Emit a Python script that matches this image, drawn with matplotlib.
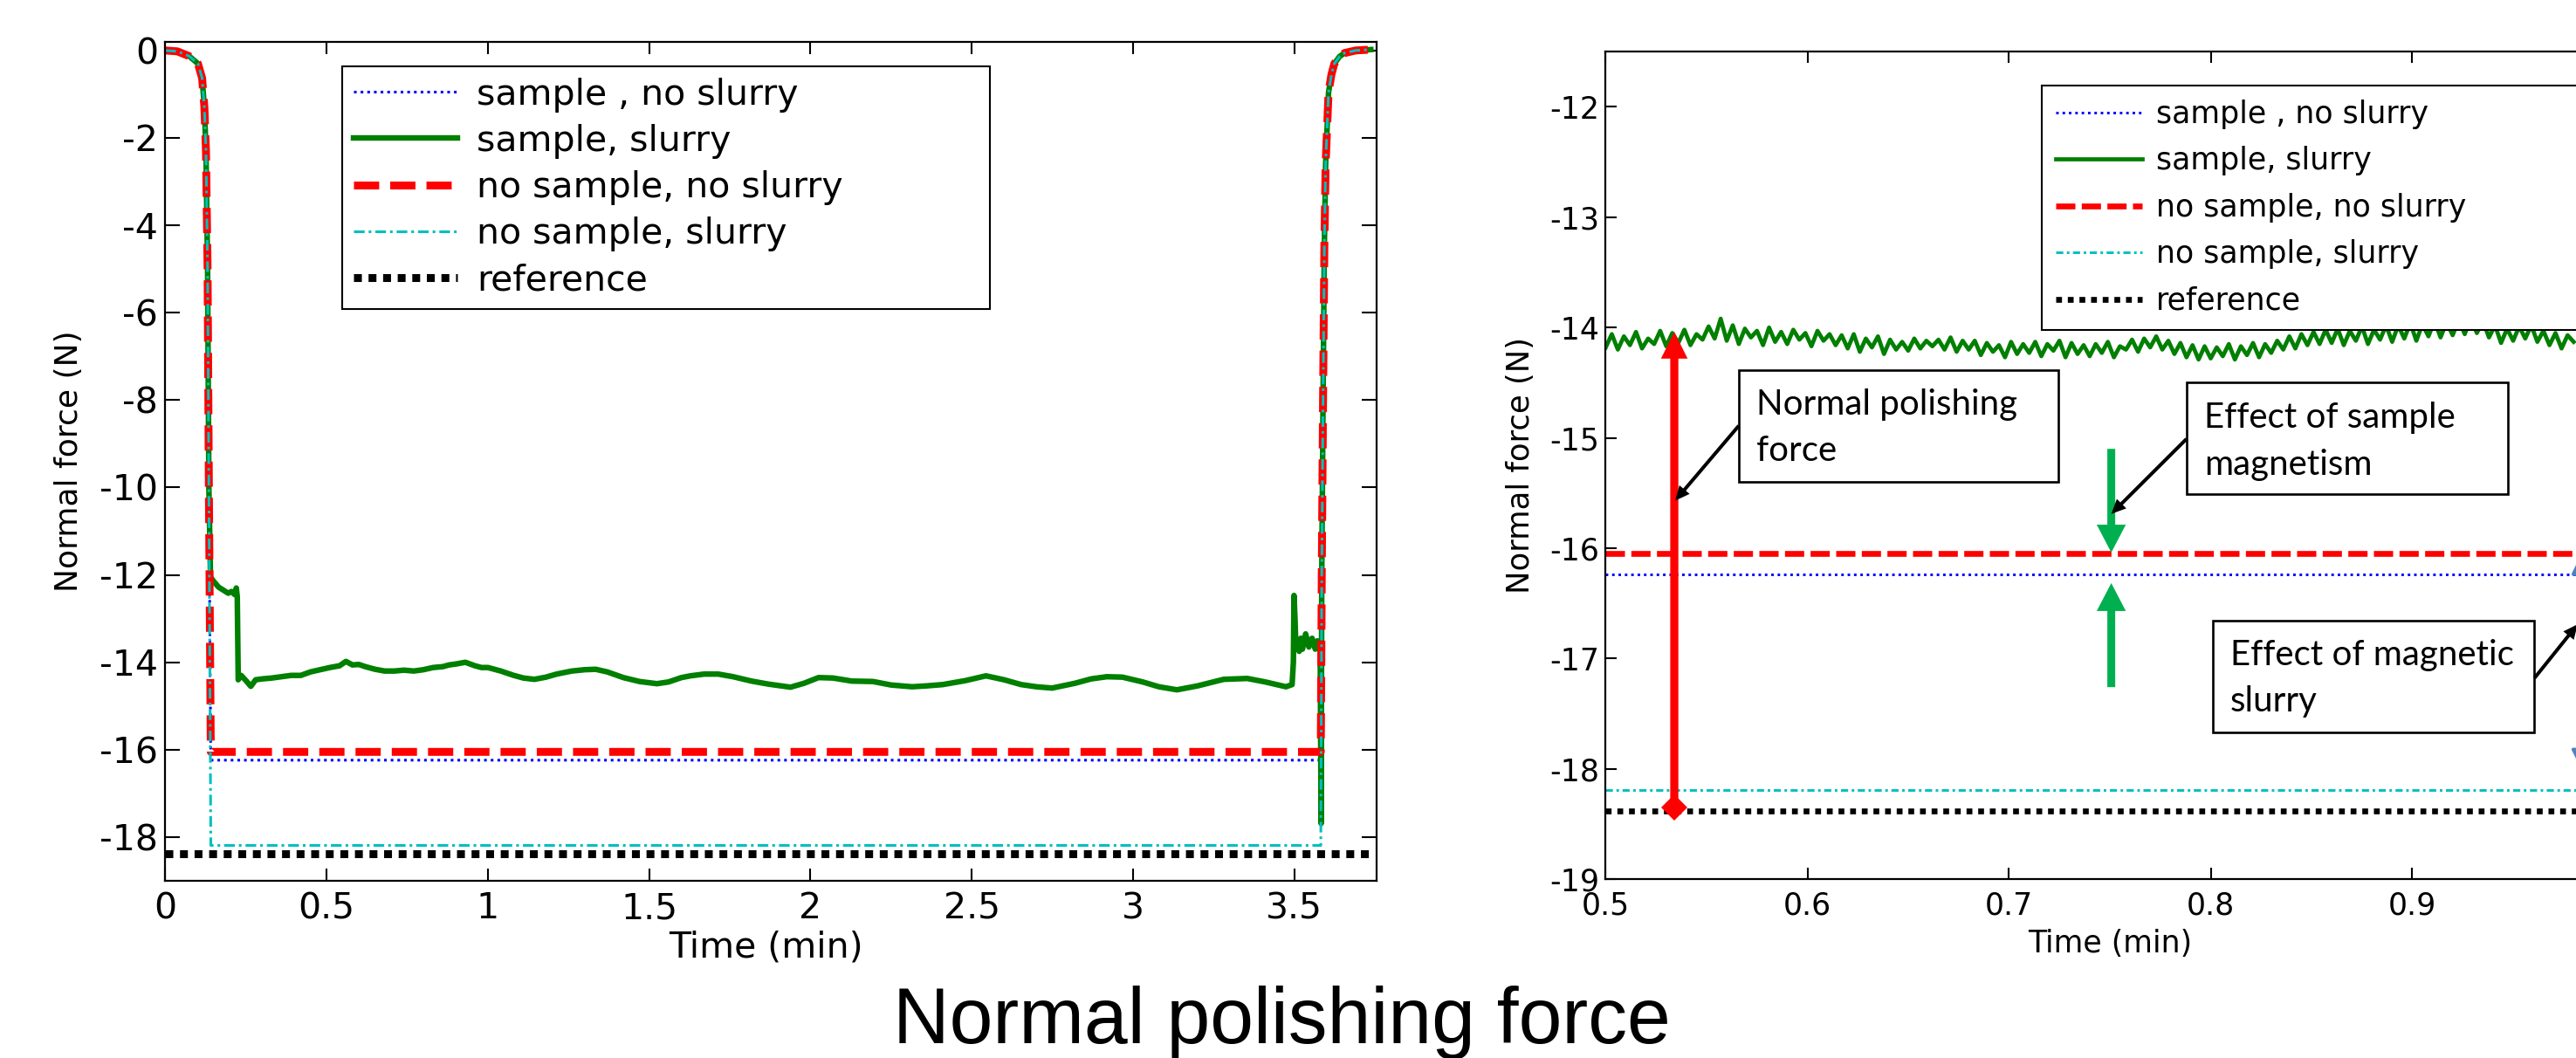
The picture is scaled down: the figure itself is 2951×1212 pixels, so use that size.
import numpy as np
import matplotlib
matplotlib.use("Agg")
import matplotlib.pyplot as plt
from matplotlib.patches import Rectangle

# ------------------------------------------------------------------ data
series_labels = ["sample , no slurry", "sample, slurry", "no sample, no slurry",
                 "no sample, slurry", "reference"]

# steady plateau levels (N)
level_sample_noslurry = -16.24
level_nosample_noslurry = -16.05
level_nosample_slurry = -18.19
level_reference = -18.38

# common load / unload transients (left panel)
ramp_down_t = [0.000, 0.037, 0.074, 0.101, 0.114, 0.121, 0.126, 0.131, 0.135]
ramp_down_f = [0.00, -0.02, -0.13, -0.30, -0.63, -1.29, -2.30, -5.00, -10.00]
plateau_t = [0.141, 3.582]
ramp_up_t = [3.585, 3.589, 3.593, 3.597, 3.606, 3.615, 3.624, 3.640, 3.655, 3.690, 3.737]
ramp_up_f = [-12.0, -8.0, -4.5, -2.6, -0.96, -0.55, -0.30, -0.14, -0.06, 0.00, 0.02]
reference_t = [0.0, 3.75]

# sample, slurry : full run (left panel)
green_t = [0.140, 0.150, 0.165, 0.180, 0.195, 0.205, 0.215, 0.220, 0.223, 0.226,
           0.235, 0.250, 0.265, 0.280, 0.300, 0.330, 0.360, 0.390, 0.420, 0.450,
           0.480, 0.510, 0.540, 0.560, 0.580, 0.600, 0.620, 0.650, 0.680, 0.710,
           0.740, 0.770, 0.800, 0.830, 0.860, 0.880, 0.900, 0.930, 0.960, 0.980,
           1.000, 1.040, 1.080, 1.110, 1.144, 1.180, 1.213, 1.260, 1.300, 1.334,
           1.370, 1.420, 1.470, 1.524, 1.560, 1.600, 1.628, 1.670, 1.714, 1.760,
           1.817, 1.870, 1.938, 1.980, 2.025, 2.070, 2.128, 2.194, 2.250, 2.315,
           2.360, 2.410, 2.480, 2.544, 2.600, 2.653, 2.700, 2.749, 2.820, 2.870,
           2.919, 2.967, 3.030, 3.080, 3.136, 3.200, 3.281, 3.354, 3.410, 3.474,
           3.493, 3.497, 3.499, 3.502, 3.505, 3.510, 3.515, 3.520, 3.525, 3.535,
           3.545, 3.555, 3.565, 3.571, 3.580, 3.583]
green_f = [-12.05, -12.15, -12.28, -12.35, -12.42, -12.38, -12.45, -12.30, -12.50, -14.40,
           -14.30, -14.42, -14.55, -14.40, -14.38, -14.36, -14.33, -14.30, -14.30, -14.22,
           -14.17, -14.12, -14.08, -13.98, -14.06, -14.05, -14.10, -14.16, -14.20, -14.20,
           -14.18, -14.20, -14.17, -14.12, -14.10, -14.06, -14.04, -14.00, -14.08, -14.12,
           -14.12, -14.20, -14.30, -14.36, -14.39, -14.34, -14.27, -14.20, -14.17, -14.16,
           -14.22, -14.35, -14.44, -14.49, -14.45, -14.35, -14.31, -14.27, -14.27, -14.33,
           -14.43, -14.50, -14.57, -14.48, -14.35, -14.36, -14.43, -14.44, -14.52, -14.56,
           -14.54, -14.51, -14.42, -14.31, -14.40, -14.51, -14.56, -14.59, -14.48, -14.38,
           -14.33, -14.34, -14.45, -14.56, -14.63, -14.54, -14.39, -14.37, -14.45, -14.56,
           -14.51, -14.00, -12.47, -13.00, -13.70, -13.51, -13.75, -13.45, -13.70, -13.35,
           -13.65, -13.45, -13.70, -13.51, -13.55, -17.69]

# sample, slurry : zoomed window 0.5 - 0.98 min, sampled every 0.003 min (right panel)
zoom_green_f = [
    -14.18, -14.06, -14.20, -14.08, -14.16, -14.04, -14.19, -14.10, -14.15, -14.03,
    -14.17, -14.05, -14.14, -14.02, -14.16, -14.06, -14.11, -13.99, -14.10, -13.92,
    -14.12, -13.98, -14.15, -14.01, -14.09, -14.03, -14.16, -14.00, -14.13, -14.04,
    -14.15, -14.02, -14.11, -14.05, -14.17, -14.03, -14.12, -14.06, -14.16, -14.07,
    -14.19, -14.06, -14.22, -14.10, -14.18, -14.08, -14.24, -14.11, -14.20, -14.13,
    -14.21, -14.10, -14.19, -14.12, -14.17, -14.11, -14.20, -14.09, -14.22, -14.12,
    -14.20, -14.12, -14.25, -14.14, -14.22, -14.16, -14.27, -14.13, -14.24, -14.15,
    -14.23, -14.13, -14.26, -14.15, -14.21, -14.12, -14.27, -14.14, -14.24, -14.16,
    -14.26, -14.15, -14.23, -14.13, -14.27, -14.17, -14.20, -14.11, -14.22, -14.10,
    -14.18, -14.08, -14.20, -14.12, -14.24, -14.14, -14.27, -14.16, -14.29, -14.17,
    -14.28, -14.18, -14.26, -14.15, -14.29, -14.17, -14.25, -14.14, -14.27, -14.15,
    -14.23, -14.12, -14.20, -14.08, -14.19, -14.06, -14.16, -14.04, -14.15, -14.02,
    -14.14, -14.01, -14.16, -14.03, -14.12, -13.99, -14.15, -14.02, -14.11, -13.98,
    -14.13, -13.98, -14.10, -13.96, -14.12, -13.97, -14.08, -13.94, -14.09, -13.95,
    -14.07, -13.93, -14.06, -13.91, -14.05, -13.94, -14.09, -13.98, -14.14, -14.01,
    -14.12, -13.99, -14.10, -13.98, -14.13, -14.03, -14.16, -14.05, -14.19, -14.07,
    -14.13]
zoom_window = [0.5, 0.98]
zoom_flat_t = [0.5, 1.0]

# annotation geometry on the zoomed panel (data units)
polish_arrow_x = 0.534
polish_arrow_y = [-18.35, -14.04]
magnet_arrow_x = 0.7507
magnet_arrow_top = [-15.10, -16.04]
magnet_arrow_bottom = [-17.26, -16.317]
slurry_arrow_x = 0.9845
slurry_arrow_y = [-16.03, -18.03]

box_texts = [["Normal polishing", "force"],
             ["Effect of sample", "magnetism"],
             ["Effect of magnetic", "slurry"]]
box_rects = [(0.566, -15.399, 0.1585, 1.016),
             (0.788, -15.510, 0.1594, 1.013),
             (0.801, -17.670, 0.1594, 1.015)]
box_text_x = [0.5747, 0.7967, 0.8097]
box_text_baselines = [(-14.787, -15.209), (-14.909, -15.332), (-17.058, -17.481)]
box_arrows = [((0.566, -14.89), (0.5344, -15.57)),
              ((0.788, -15.01), (0.7507, -15.69)),
              ((0.9605, -17.18), (0.982, -16.69))]

# ------------------------------------------------------------------ style
BLUE, GREEN, RED, CYAN, BLACK = "#0000FF", "#007F00", "#FF0000", "#00BFBF", "#000000"
W, H = 2951, 1212
fig = plt.figure(figsize=(W / 100, H / 100), dpi=100)
fig.patch.set_facecolor("white")

def px_axes(x0, y0, x1, y1):
    return fig.add_axes([x0 / W, 1 - y1 / H, (x1 - x0) / W, (y1 - y0) / H])

# ================================================================ left panel
axL = px_axes(189.4, 47.8, 1577.0, 1009.0)

def level_series(level):
    t = ramp_down_t + plateau_t + ramp_up_t
    f = ramp_down_f + [level, level] + ramp_up_f
    return t, f

t, f = level_series(level_sample_noslurry)
axL.plot(t, f, color=BLUE, lw=2.2, dashes=(1, 1.5), label=series_labels[0])
axL.plot(ramp_down_t + green_t + ramp_up_t, ramp_down_f + green_f + ramp_up_f,
         color=GREEN, lw=4.6, label=series_labels[1])
t, f = level_series(level_nosample_noslurry)
axL.plot(t, f, color=RED, lw=6.5, dashes=(3.2, 1.4), label=series_labels[2])
t, f = level_series(level_nosample_slurry)
axL.plot(t, f, color=CYAN, lw=2.2, dashes=(4, 1.5, 1, 1.5), label=series_labels[3])
axL.plot(reference_t, [level_reference] * 2, color=BLACK, lw=6.5, dashes=(1, 0.85),
         label=series_labels[4])

axL.set_xlim(0, 3.755)
axL.set_ylim(-19, 0.2)
axL.set_xticks(np.arange(0, 3.51, 0.5))
axL.set_xticklabels(["0", "0.5", "1", "1.5", "2", "2.5", "3", "3.5"])
axL.set_yticks(np.arange(-18, 0.1, 2))
axL.set_yticklabels([f"{v:d}" for v in range(-18, 1, 2)])
axL.tick_params(axis="both", direction="in", top=True, right=True, width=1.5,
                labelsize=29.5, colors="black")
axL.tick_params(axis="x", length=10, pad=9)
axL.tick_params(axis="y", length=12.5, pad=6)
for s in axL.spines.values():
    s.set_linewidth(1.6)
axL.set_xlabel("Time (min)", fontsize=29.5)
axL.xaxis.set_label_coords(0.496, -0.0593)
axL.set_ylabel("Normal force (N)", fontsize=26)
axL.yaxis.set_label_coords(-0.0673, 0.5)

legL = axL.legend(loc="upper left", bbox_to_anchor=(0.146, 0.0, 0.5347, 0.9707),
                  mode="expand", borderaxespad=0, fontsize=29.5, handlelength=2.9,
                  handletextpad=0.55, borderpad=0.31, labelspacing=0.32,
                  fancybox=False, framealpha=1, edgecolor="black")
legL.get_frame().set_linewidth(1.5)

# ================================================================ right panel
axR = px_axes(1839.5, 59.3, 2994.5, 1007.0)
zoom_t = np.linspace(zoom_window[0], zoom_window[1], len(zoom_green_f))

axR.plot(zoom_flat_t, [level_sample_noslurry] * 2, color=BLUE, lw=2.1, dashes=(1, 1.5),
         label=series_labels[0])
axR.plot(zoom_t, zoom_green_f, color=GREEN, lw=3.4, label=series_labels[1])
axR.plot(zoom_flat_t, [level_nosample_noslurry] * 2, color=RED, lw=4.8, dashes=(3.3, 1.1),
         label=series_labels[2])
axR.plot(zoom_flat_t, [level_nosample_slurry] * 2, color=CYAN, lw=2.1,
         dashes=(2.8, 1.4, 1, 1.4), label=series_labels[3])
axR.plot(zoom_flat_t, [level_reference] * 2, color=BLACK, lw=4.8, dashes=(1, 1),
         label=series_labels[4])

axR.set_xlim(0.5, 1.0)
axR.set_ylim(-19, -11.5)
axR.set_xticks([0.5, 0.6, 0.7, 0.8, 0.9])
axR.set_xticklabels(["0.5", "0.6", "0.7", "0.8", "0.9"])
axR.set_yticks(np.arange(-19, -11.9, 1))
axR.set_yticklabels([f"{v:d}" for v in range(-19, -11)])
axR.tick_params(axis="both", direction="in", top=True, right=True, width=1.5,
                labelsize=25, colors="black")
axR.tick_params(axis="x", length=9.5, pad=9.5)
axR.tick_params(axis="y", length=9, pad=5)
for s in axR.spines.values():
    s.set_linewidth(1.6)
axR.set_xlabel("Time (min)", fontsize=25)
axR.xaxis.set_label_coords(0.5, -0.0601)
axR.set_ylabel("Normal force (N)", fontsize=25.5)
axR.yaxis.set_label_coords(-0.0697, 0.5)

legR = axR.legend(loc="upper left", bbox_to_anchor=(0.4325, 0.0, 0.65, 0.9596),
                  mode="expand", borderaxespad=0, fontsize=25, handlelength=2.85,
                  handletextpad=0.45, borderpad=0.47, labelspacing=0.56,
                  fancybox=False, framealpha=1, edgecolor="black")
legR.get_frame().set_linewidth(1.5)

# annotations: red arrow with diamond tail (normal polishing force)
axR.annotate("", xy=(polish_arrow_x, polish_arrow_y[1]),
             xytext=(polish_arrow_x, polish_arrow_y[0]),
             arrowprops=dict(arrowstyle="simple,head_length=22,head_width=22,tail_width=6.7",
                             mutation_scale=1, color=RED, lw=0, shrinkA=0, shrinkB=0),
             zorder=6)
axR.plot([polish_arrow_x], [polish_arrow_y[0]], marker="D", ms=15, color=RED, mew=0, zorder=6)

# green arrows (sample magnetism)
for tail, tip in (magnet_arrow_top, magnet_arrow_bottom):
    axR.annotate("", xy=(magnet_arrow_x, tip), xytext=(magnet_arrow_x, tail),
                 arrowprops=dict(arrowstyle="simple,head_length=23,head_width=24,tail_width=6.5",
                                 mutation_scale=1, color="#00B050", lw=0,
                                 shrinkA=0, shrinkB=0), zorder=6)

# steel-blue double arrow at the right border (magnetic slurry)
axR.annotate("", xy=(slurry_arrow_x, slurry_arrow_y[1]), xytext=(slurry_arrow_x, slurry_arrow_y[0]),
             arrowprops=dict(arrowstyle="<|-|>,head_length=0.8,head_width=0.4",
                             mutation_scale=20, color="#4F81BD", lw=2.5,
                             shrinkA=0, shrinkB=0), zorder=6)

# text boxes
for (x0, y0, w, h), lines, tx, bls in zip(box_rects, box_texts, box_text_x, box_text_baselines):
    axR.add_patch(Rectangle((x0, y0), w, h, facecolor="white", edgecolor="black",
                            lw=1.9, zorder=5))
    for line, bl in zip(lines, bls):
        axR.text(tx, bl, line, fontsize=29, family="Lato", ha="left", va="baseline",
                 zorder=6)

for start, end in box_arrows:
    axR.annotate("", xy=end, xytext=start,
                 arrowprops=dict(arrowstyle="simple,head_length=12,head_width=11,tail_width=2.9",
                                 mutation_scale=1, color="black", lw=0,
                                 shrinkA=0, shrinkB=0), zorder=7)

# overall caption
fig.text(1468 / W, 1 - 1195 / H, "Normal polishing force", ha="center", va="baseline",
         fontsize=64.5, family="Liberation Sans")

fig.savefig("out.png", dpi=100, facecolor="white")
